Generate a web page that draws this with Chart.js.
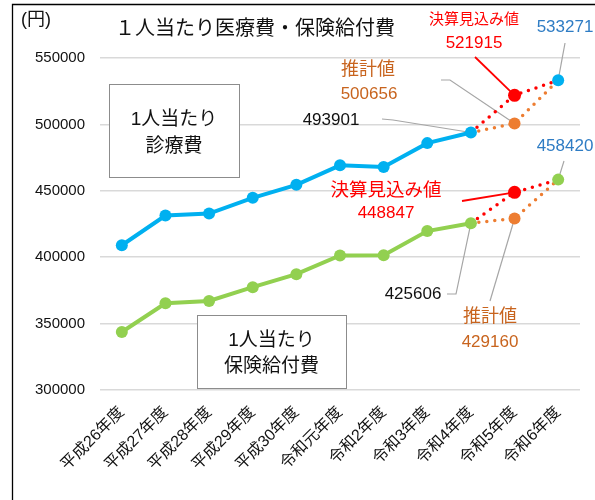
<!DOCTYPE html>
<html>
<head>
<meta charset="utf-8">
<script src="https://cdn.jsdelivr.net/npm/chart.js@4.4.0/dist/chart.umd.min.js"></script>
<style>
body{margin:0;background:#fff}
#wrap{width:595px;height:500px}
</style>
</head>
<body>
<div id="wrap"><canvas id="myChart" width="595" height="500"></canvas></div>
<script>
const years = ["平成26年度","平成27年度","平成28年度","平成29年度","平成30年度","令和元年度","令和2年度","令和3年度","令和4年度","令和5年度","令和6年度"]
// 1人当たり診療費 (令和5年度は見込み/推計で別系列)
const medical = [409000,431400,432900,444700,454500,469200,467900,485900,493901,null,533271]
const medicalSettle = [null,null,null,null,null,null,null,null,493901,521915,533271]
const medicalEstimate = [null,null,null,null,null,null,null,null,493901,500656,533271]
// 1人当たり保険給付費
const benefit = [343700,365300,367000,377400,387200,401300,401500,419700,425606,null,458420]
const benefitSettle = [null,null,null,null,null,null,null,null,425606,448847,458420]
const benefitEstimate = [null,null,null,null,null,null,null,null,425606,429160,458420]
const yTicks = [300000,350000,400000,450000,500000,550000]

const font = '"Liberation Sans", "Noto Sans CJK JP", sans-serif'
const onlyAt = (i, r) => years.map((y, k) => k === i ? r : 0)

function dotted(data, color, r){
    return {
        data: data,
        borderColor: color,
        backgroundColor: color,
        borderWidth: 3.5,
        borderDash: [0, 8],
        borderCapStyle: "round",
        pointRadius: onlyAt(9, r),
        pointBorderWidth: 0,
        pointHoverRadius: 0,
        spanGaps: false
    }
}

function solid(data, color){
    return {
        data: data,
        borderColor: color,
        backgroundColor: color,
        borderWidth: 4,
        pointRadius: 6,
        pointBorderWidth: 0,
        spanGaps: false
    }
}

function pt(chart, ds, i){
    let p = chart.getDatasetMeta(ds).data[i]
    return {x: p.x, y: p.y}
}

function leader(ctx, pts, color, w){
    ctx.save()
    ctx.strokeStyle = color
    ctx.lineWidth = w
    ctx.beginPath()
    pts.forEach((p, i) => i ? ctx.lineTo(p.x, p.y) : ctx.moveTo(p.x, p.y))
    ctx.stroke()
    ctx.restore()
}

function text(ctx, str, x, y, size, color){
    ctx.save()
    ctx.font = size + "px " + font
    ctx.fillStyle = color
    ctx.textAlign = "center"
    ctx.textBaseline = "middle"
    ctx.fillText(str, x, y)
    ctx.restore()
}

function box(ctx, x1, y1, x2, y2, lines, size){
    ctx.save()
    ctx.fillStyle = "#fff"
    ctx.fillRect(x1, y1, x2 - x1, y2 - y1)
    ctx.strokeStyle = "#8c8c8c"
    ctx.lineWidth = 1
    ctx.strokeRect(x1 + 0.5, y1 + 0.5, x2 - x1, y2 - y1)
    ctx.restore()
    lines.forEach(l => text(ctx, l[0], (x1 + x2) / 2, l[1], size, "#111"))
}

const gray = "#a6a6a6"
const annotations = {
    id: "annotations",
    beforeDatasetsDraw(chart){
        let ctx = chart.ctx
        leader(ctx, [{x:475,y:57}, pt(chart,2,9)], "#ff0000", 1.8)
        leader(ctx, [{x:565,y:43}, pt(chart,0,10)], gray, 1.2)
        leader(ctx, [{x:441,y:80}, {x:450,y:80}, pt(chart,3,9)], gray, 1.2)
        leader(ctx, [{x:382,y:119}, {x:393,y:120}, pt(chart,0,8)], gray, 1.2)
        leader(ctx, [{x:564,y:161}, pt(chart,1,10)], gray, 1.2)
        leader(ctx, [{x:462,y:201}, pt(chart,4,9)], "#ff0000", 1.8)
        leader(ctx, [{x:447,y:294}, {x:456,y:294}, pt(chart,1,8)], gray, 1.2)
        leader(ctx, [{x:490,y:301}, pt(chart,5,9)], gray, 1.2)
    },
    afterDatasetsDraw(chart){
        let ctx = chart.ctx
        // frame
        ctx.save()
        ctx.strokeStyle = "#000"
        ctx.lineWidth = 1.3
        ctx.beginPath()
        ctx.moveTo(12.5, 500)
        ctx.lineTo(12.5, 4.5)
        ctx.lineTo(595, 4.5)
        ctx.stroke()
        ctx.restore()

        text(ctx, "(円)", 36, 20, 18, "#111")
        text(ctx, "１人当たり医療費・保険給付費", 255, 29, 20, "#111")

        box(ctx, 109, 84, 239, 177, [["1人当たり",120],["診療費",147]], 19)
        box(ctx, 197, 315, 346, 388, [["1人当たり",341],["保険給付費",367]], 19)

        text(ctx, "決算見込み値", 474, 20, 15, "#ff0000")
        text(ctx, String(medicalSettle[9]), 474, 43, 17, "#ff0000")
        text(ctx, String(medical[10]), 565, 27, 17, "#2e7cc4")
        text(ctx, "推計値", 368, 70, 18, "#c8641e")
        text(ctx, String(medicalEstimate[9]), 369, 94, 17, "#c8641e")
        text(ctx, String(medical[8]), 331, 120, 17, "#111")
        text(ctx, String(benefit[10]), 565, 146, 17, "#2e7cc4")
        text(ctx, "決算見込み値", 386, 191, 18.5, "#ff0000")
        text(ctx, String(benefitSettle[9]), 386, 213, 17, "#ff0000")
        text(ctx, String(benefit[8]), 413, 294, 17, "#111")
        text(ctx, "推計値", 490, 317, 18, "#c8641e")
        text(ctx, String(benefitEstimate[9]), 490, 342, 17, "#c8641e")
    }
}

new Chart("myChart", {
    type: "line",
    data: {
        labels: years,
        datasets: [
            solid(medical, "#00b0f0"),
            solid(benefit, "#92d050"),
            dotted(medicalSettle, "#ff0000", 6.5),
            dotted(medicalEstimate, "#ed7d31", 6),
            dotted(benefitSettle, "#ff0000", 6.5),
            dotted(benefitEstimate, "#ed7d31", 6)
        ]
    },
    options: {
        responsive: false,
        animation: false,
        layout: {padding: {top: 58, right: 15, left: 0, bottom: 0}},
        plugins: {legend: {display: false}, tooltip: {enabled: false}},
        scales: {
            x: {
                offset: true,
                grid: {display: false},
                border: {display: false},
                ticks: {
                    minRotation: 45, maxRotation: 45, padding: 5,
                    color: "#111", font: {family: font, size: 16}
                },
                afterFit(s){ s.height = 110 }
            },
            y: {
                min: 300000, max: 550000,
                afterBuildTicks(s){ s.ticks = yTicks.map(v => ({value: v})) },
                grid: {color: "#d9d9d9", lineWidth: 1.5, drawTicks: false},
                border: {display: false},
                ticks: {padding: 15, color: "#111", font: {family: font, size: 15}, callback: v => String(v)},
                afterFit(s){ s.width = 100 }
            }
        }
    },
    plugins: [annotations]
})
</script>
</body>
</html>
